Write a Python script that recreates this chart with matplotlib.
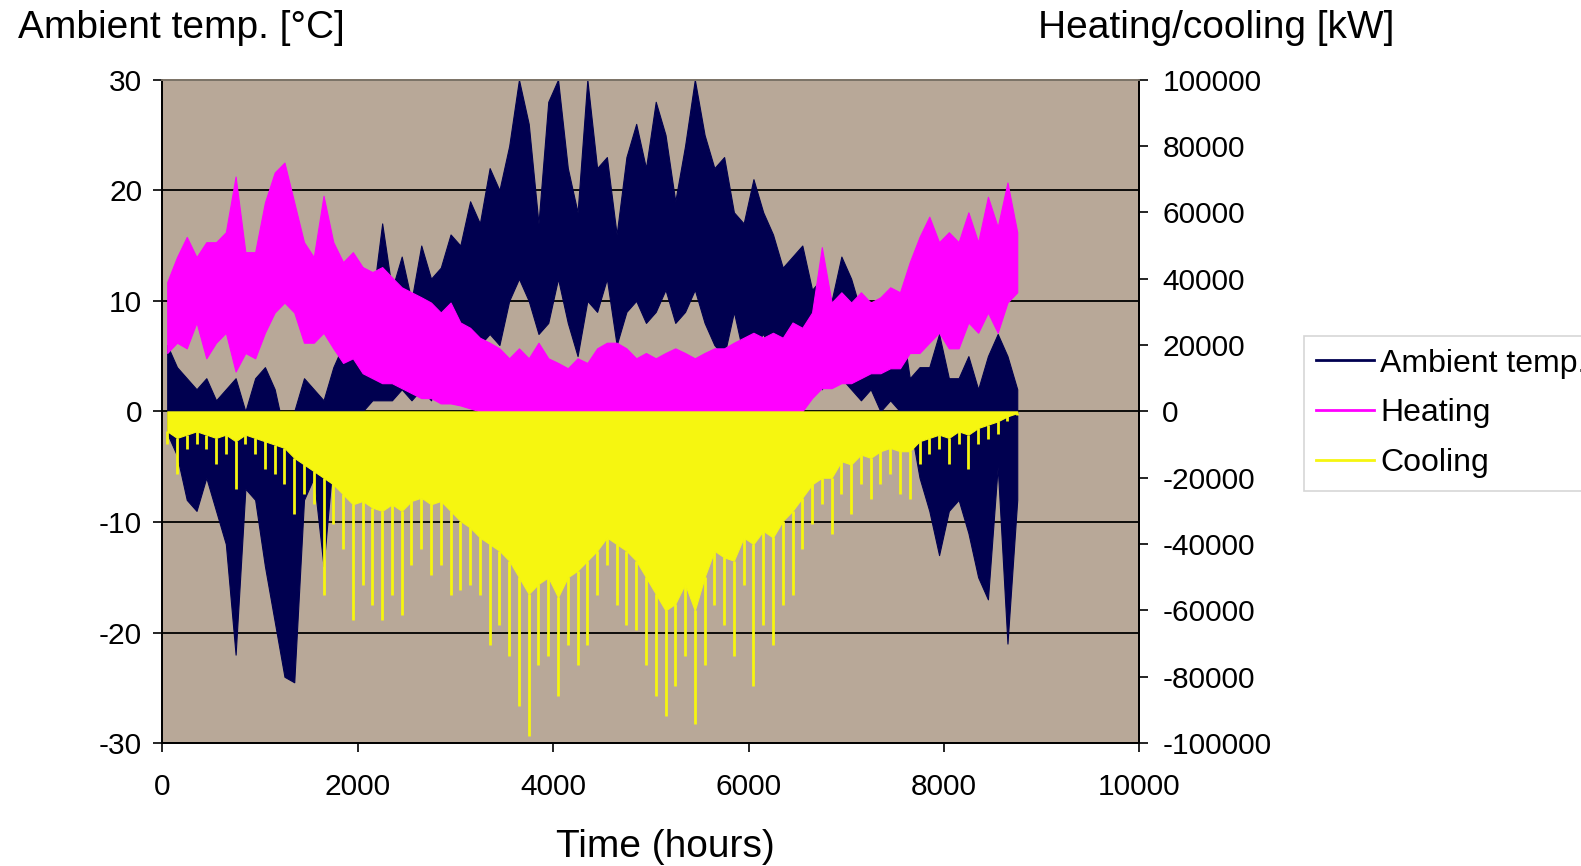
import numpy as np
import matplotlib
matplotlib.use("Agg")
import matplotlib.pyplot as plt
from matplotlib.lines import Line2D

plt.rcParams['font.family'] = ['Liberation Sans', 'DejaVu Sans']
plt.rcParams['axes.unicode_minus'] = False

# ---- data: per 100-hour bin ----
bin_hours = np.arange(0, 8800, 100)  # bin starts 0..8700 (88 bins)

temp_hi = [6, 4, 3, 2, 3, 1, 2, 3, 0, 3,
           4, 2, -2, 0, 3, 2, 1, 4, 6, 5,
           13, 10, 17, 11, 14, 10, 15, 12, 13, 16,
           15, 19, 17, 22, 20, 24, 30, 26, 17, 28,
           30, 22, 18, 30, 22, 23, 16, 23, 26, 22,
           28, 25, 19, 24, 30, 25, 22, 23, 18, 17,
           21, 18, 16, 13, 14, 15, 11, 12, 10, 14,
           12, 9, 8, 10, 7, 9, 3, 4, 4, 7,
           3, 3, 5, 2, 5, 7, 5, 2]
temp_lo = [-2, -4, -8, -9, -6, -9, -12, -22, -7, -8,
           -14, -19, -24, -24.5, -8, -6, -14, -4, -1, -2,
           0, 1, 1, 1, 2, 1, 2, 1, 4, 3,
           6, 5, 6, 7, 6, 10, 12, 10, 7, 8,
           12, 8, 5, 10, 9, 12, 6, 9, 10, 8,
           9, 11, 8, 9, 11, 8, 6, 5, 9, 5,
           6, 7, 5, 6, 4, 7, 4, 2, 4, 3,
           2, 1, 2, 0, 1, 0, -1, -6, -9, -13,
           -9, -8, -11, -15, -17, -5, -21, -8]

heat_hi = [39000, 46500, 52600, 46500, 51000, 51000, 54000, 70800, 48000, 48000,
           63000, 72000, 75000, 63000, 51000, 46500, 65000, 51000, 45000, 48000,
           43500, 42000, 43500, 40400, 37400, 35900, 34400, 32800, 29800, 32800,
           26800, 25200, 22200, 20700, 19000, 16000, 19000, 16000, 20700, 16000,
           14600, 13000, 16000, 14600, 19000, 20700, 20700, 19000, 16000, 17600,
           16000, 17600, 19000, 17600, 16000, 17600, 19000, 19000, 20700, 22200,
           23700, 22200, 23700, 22200, 26800, 25200, 29800, 49500, 32800, 35900,
           32800, 35900, 32800, 34400, 37400, 35900, 45000, 52600, 58700, 51000,
           54000, 51000, 60000, 51000, 64700, 55600, 69000, 54000]
heat_lo = [17600, 20700, 19000, 26800, 16000, 20700, 23700, 12000, 17600, 16000,
           23700, 29800, 32800, 29800, 20700, 20700, 23700, 19000, 14600, 16000,
           11500, 10000, 8500, 8500, 7000, 5500, 4000, 4000, 2400, 2400,
           1800, 900, 0, 0, 0, 0, 0, 0, 0, 0,
           0, 0, 0, 0, 0, 0, 0, 0, 0, 0,
           0, 0, 0, 0, 0, 0, 0, 0, 0, 0,
           0, 0, 0, 0, 0, 0, 4000, 7000, 7000, 8500,
           8500, 10000, 11500, 11500, 13000, 13000, 17600, 17600, 20700, 23700,
           19000, 19000, 26800, 23700, 29800, 23700, 32800, 35900]

# cooling: typical (bulk) depth and deepest spike per bin
cool_bulk = [-6000, -8000, -7000, -6000, -7000, -8000, -7000, -9000, -7000, -8000,
             -9000, -10000, -11000, -14000, -16000, -18000, -20000, -22000, -25000, -28000,
             -27000, -29000, -30000, -28000, -30000, -27000, -26000, -28000, -27000, -30000,
             -33000, -35000, -38000, -40000, -42000, -45000, -50000, -55000, -52000, -50000,
             -56000, -50000, -48000, -45000, -42000, -38000, -40000, -42000, -45000, -50000,
             -55000, -60000, -58000, -52000, -60000, -50000, -42000, -44000, -45000, -38000,
             -40000, -36000, -38000, -33000, -30000, -26000, -22000, -20000, -20000, -15000,
             -16000, -13000, -14000, -12000, -11000, -12000, -12000, -9000, -8000, -7000,
             -8000, -6000, -7000, -5000, -4000, -3000, -1500, -500]
cool_lo = [-9700, -18800, -11200, -9700, -11200, -15800, -12800, -23400, -9700, -12800,
           -17300, -18800, -21900, -31000, -24900, -28000, -55300, -34000, -41600, -63000,
           -52300, -58400, -63000, -55300, -61400, -46200, -41600, -49200, -46200, -55300,
           -53800, -52300, -55300, -70500, -64400, -73600, -88800, -97900, -76600, -73600,
           -85700, -70500, -76600, -70500, -55300, -46200, -58400, -64400, -66000, -76600,
           -85700, -91800, -82700, -73600, -94200, -76600, -58400, -64400, -73600, -52300,
           -82700, -64400, -70500, -58400, -55300, -41600, -34000, -28000, -37100, -24900,
           -31000, -21900, -26400, -21900, -18800, -24900, -26400, -15800, -12800, -11200,
           -15800, -9700, -17300, -9700, -8200, -6700, -3000, -1200]

x_ticks = [0, 2000, 4000, 6000, 8000, 10000]
left_ticks = [-30, -20, -10, 0, 10, 20, 30]
right_ticks = [-100000, -80000, -60000, -40000, -20000, 0, 20000, 40000, 60000, 80000, 100000]

NAVY = '#000050'
MAGENTA = '#FF00FF'
YELLOW = '#F6F610'
BG = '#B8A898'

W, H = 1581, 866
S = 1581 / 1568  # reference coordinates were read at 1568 px width


def fx(px):
    return px * S / W


def fy(py):
    return 1 - py * S / H


fig = plt.figure(figsize=(W / 100, H / 100), dpi=100)
ax = fig.add_axes([fx(161), fy(737), fx(1130) - fx(161), fy(79) - fy(737)])
ax.set_facecolor(BG)
ax2 = ax.twinx()

centers = bin_hours + 50

# ambient temperature (left axis)
ax.fill_between(centers, temp_lo, temp_hi, color=NAVY, lw=0.8, edgecolor=NAVY)

# heating / cooling (right axis)
ax2.fill_between(centers, heat_lo, heat_hi, color=MAGENTA, lw=0.8, edgecolor=MAGENTA)
ax2.fill_between(centers, cool_bulk, 0, color=YELLOW, lw=0.8, edgecolor=YELLOW)
ax2.vlines(centers, cool_lo, cool_bulk, color=YELLOW, lw=2.0)

ax.set_xlim(0, 10000)
ax.set_ylim(-30, 30)
ax2.set_ylim(-100000, 100000)
ax.set_xticks(x_ticks)
ax.set_yticks(left_ticks)
ax2.set_yticks(right_ticks)
ax.set_xticklabels([str(x) for x in x_ticks])
ax.set_yticklabels([str(y) for y in left_ticks])
ax2.set_yticklabels([str(y) for y in right_ticks])

ax.yaxis.grid(True, color='black', lw=1.3)
ax.set_axisbelow(True)

for a in (ax, ax2):
    for s in ('left', 'right', 'bottom'):
        a.spines[s].set_color('black')
        a.spines[s].set_linewidth(1.3)
    a.spines['top'].set_color('#7d7468')
    a.spines['top'].set_linewidth(1.3)

ax.tick_params(axis='both', direction='out', length=6.5, width=1.2, labelsize=21.5, colors='black')
ax.tick_params(axis='y', pad=8)
ax.tick_params(axis='x', pad=15)
ax2.tick_params(axis='y', direction='out', length=6.5, width=1.2, labelsize=21.5, pad=10)

ax.set_xlabel('Time (hours)', fontsize=28, labelpad=20)
ax.xaxis.label.set_x(0.5 + 14 / 969)
fig.text(fx(18), fy(28), 'Ambient temp. [°C]', fontsize=28, ha='left', va='center')
fig.text(fx(1383), fy(28), 'Heating/cooling [kW]', fontsize=28, ha='right', va='center')

handles = [Line2D([], [], color=NAVY, lw=2), Line2D([], [], color=MAGENTA, lw=2),
           Line2D([], [], color=YELLOW, lw=2)]
leg = fig.legend(handles, ['Ambient temp.', 'Heating', 'Cooling'],
                 loc='upper left', bbox_to_anchor=(fx(1293), fy(333)),
                 fontsize=23, frameon=True, fancybox=False, edgecolor='#cccccc',
                 handlelength=1.8, handletextpad=0.2, labelspacing=0.62,
                 borderpad=0.4, borderaxespad=0)
leg.get_frame().set_linewidth(1.2)

fig.savefig('out.png', dpi=100)
